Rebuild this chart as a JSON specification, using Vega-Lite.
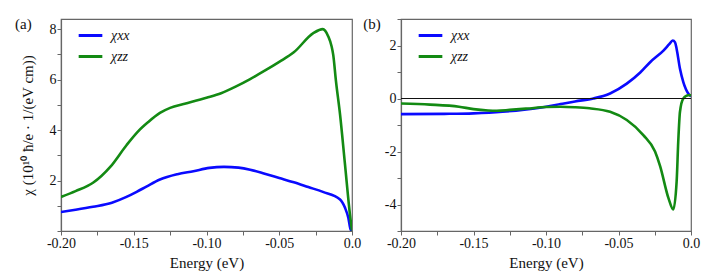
{
  "$schema": "https://vega.github.io/schema/vega-lite/v6.json",
  "background": "white",
  "padding": {"left": 14, "top": 15, "right": 5, "bottom": 2},
  "bounds": "flush",
  "spacing": 49,
  "config": {
    "font": "Times New Roman",
    "view": {"stroke": "#666", "strokeWidth": 1.2},
    "axis": {"labelFont": "Times New Roman", "titleFont": "Times New Roman", "labelFontSize": 14, "titleFontSize": 15, "titleFontWeight": "normal", "labelColor": "#111", "titleColor": "#111", "domainColor": "#666", "tickColor": "#666", "tickSize": 4, "labelPadding": 1, "grid": false, "domainWidth": 1.2},
    "legend": {"labelFont": "Times New Roman", "labelFontSize": 14, "labelFontStyle": "italic", "symbolType": "stroke", "symbolStrokeWidth": 3, "symbolSize": 560, "orient": "none", "legendX": 16, "legendY": 3, "padding": 0, "rowPadding": -2, "labelOffset": 7, "labelColor": "#111"}
  },
  "datasets": {
    "a": [
      {"s": "χxx", "x": -0.2, "y": 0.75}, {"s": "χxx", "x": -0.19, "y": 0.84}, {"s": "χxx", "x": -0.178, "y": 0.96}, {"s": "χxx", "x": -0.165, "y": 1.12}, {"s": "χxx", "x": -0.155, "y": 1.35}, {"s": "χxx", "x": -0.148, "y": 1.55}, {"s": "χxx", "x": -0.141, "y": 1.77}, {"s": "χxx", "x": -0.132, "y": 2.04}, {"s": "χxx", "x": -0.12, "y": 2.25}, {"s": "χxx", "x": -0.109, "y": 2.37}, {"s": "χxx", "x": -0.098, "y": 2.5}, {"s": "χxx", "x": -0.088, "y": 2.54}, {"s": "χxx", "x": -0.078, "y": 2.51}, {"s": "χxx", "x": -0.07, "y": 2.43}, {"s": "χxx", "x": -0.06, "y": 2.27}, {"s": "χxx", "x": -0.05, "y": 2.1}, {"s": "χxx", "x": -0.04, "y": 1.93}, {"s": "χxx", "x": -0.03, "y": 1.74}, {"s": "χxx", "x": -0.02, "y": 1.55}, {"s": "χxx", "x": -0.0082, "y": 1.25}, {"s": "χxx", "x": -0.0048, "y": 0.92}, {"s": "χxx", "x": -0.0025, "y": 0.52}, {"s": "χxx", "x": -0.0009, "y": 0.05}, {"s": "χxx", "x": 0, "y": 0.02},
      {"s": "χzz", "x": -0.2, "y": 1.35}, {"s": "χzz", "x": -0.19, "y": 1.58}, {"s": "χzz", "x": -0.178, "y": 1.91}, {"s": "χzz", "x": -0.166, "y": 2.55}, {"s": "χzz", "x": -0.155, "y": 3.4}, {"s": "χzz", "x": -0.147, "y": 3.95}, {"s": "χzz", "x": -0.14, "y": 4.32}, {"s": "χzz", "x": -0.132, "y": 4.68}, {"s": "χzz", "x": -0.125, "y": 4.88}, {"s": "χzz", "x": -0.115, "y": 5.04}, {"s": "χzz", "x": -0.1, "y": 5.28}, {"s": "χzz", "x": -0.09, "y": 5.46}, {"s": "χzz", "x": -0.08, "y": 5.72}, {"s": "χzz", "x": -0.07, "y": 6.02}, {"s": "χzz", "x": -0.06, "y": 6.35}, {"s": "χzz", "x": -0.05, "y": 6.7}, {"s": "χzz", "x": -0.04, "y": 7.08}, {"s": "χzz", "x": -0.0266, "y": 7.84}, {"s": "χzz", "x": -0.0201, "y": 8.0}, {"s": "χzz", "x": -0.0163, "y": 7.71}, {"s": "χzz", "x": -0.014, "y": 7.31}, {"s": "χzz", "x": -0.0129, "y": 6.98}, {"s": "χzz", "x": -0.011, "y": 5.93}, {"s": "χzz", "x": -0.0082, "y": 4.61}, {"s": "χzz", "x": -0.0048, "y": 2.63}, {"s": "χzz", "x": -0.0014, "y": 0.65}, {"s": "χzz", "x": 0, "y": 0.02}
    ],
    "b": [
      {"s": "χxx", "x": -0.2, "y": -0.59}, {"s": "χxx", "x": -0.17, "y": -0.58}, {"s": "χxx", "x": -0.15, "y": -0.56}, {"s": "χxx", "x": -0.13, "y": -0.5}, {"s": "χxx", "x": -0.115, "y": -0.42}, {"s": "χxx", "x": -0.1, "y": -0.31}, {"s": "χxx", "x": -0.09, "y": -0.21}, {"s": "χxx", "x": -0.08, "y": -0.11}, {"s": "χxx", "x": -0.0673, "y": 0.0}, {"s": "χxx", "x": -0.0558, "y": 0.19}, {"s": "χxx", "x": -0.0443, "y": 0.56}, {"s": "χxx", "x": -0.035, "y": 0.98}, {"s": "χxx", "x": -0.0282, "y": 1.37}, {"s": "χxx", "x": -0.019, "y": 1.81}, {"s": "χxx", "x": -0.015, "y": 2.05}, {"s": "χxx", "x": -0.0126, "y": 2.19}, {"s": "χxx", "x": -0.011, "y": 2.12}, {"s": "χxx", "x": -0.0099, "y": 1.87}, {"s": "χxx", "x": -0.0076, "y": 1.12}, {"s": "χxx", "x": -0.0053, "y": 0.62}, {"s": "χxx", "x": -0.0035, "y": 0.35}, {"s": "χxx", "x": -0.0019, "y": 0.19}, {"s": "χxx", "x": 0, "y": 0.08},
      {"s": "χzz", "x": -0.2, "y": -0.19}, {"s": "χzz", "x": -0.18, "y": -0.23}, {"s": "χzz", "x": -0.16, "y": -0.31}, {"s": "χzz", "x": -0.15, "y": -0.4}, {"s": "χzz", "x": -0.14, "y": -0.45}, {"s": "χzz", "x": -0.134, "y": -0.46}, {"s": "χzz", "x": -0.125, "y": -0.43}, {"s": "χzz", "x": -0.113, "y": -0.38}, {"s": "χzz", "x": -0.1, "y": -0.32}, {"s": "χzz", "x": -0.09, "y": -0.31}, {"s": "χzz", "x": -0.08, "y": -0.33}, {"s": "χzz", "x": -0.07, "y": -0.37}, {"s": "χzz", "x": -0.0558, "y": -0.5}, {"s": "χzz", "x": -0.0443, "y": -0.81}, {"s": "χzz", "x": -0.0329, "y": -1.38}, {"s": "χzz", "x": -0.0248, "y": -2.0}, {"s": "χzz", "x": -0.0213, "y": -2.55}, {"s": "χzz", "x": -0.0156, "y": -3.75}, {"s": "χzz", "x": -0.0122, "y": -4.19}, {"s": "χzz", "x": -0.0099, "y": -3.13}, {"s": "χzz", "x": -0.0088, "y": -1.63}, {"s": "χzz", "x": -0.0076, "y": -0.5}, {"s": "χzz", "x": -0.0053, "y": 0.0}, {"s": "χzz", "x": -0.0019, "y": 0.12}, {"s": "χzz", "x": 0, "y": 0.12}
    ],
    "zero": [{"y": 0}]
  },
  "resolve": {"legend": {"color": "independent"}},
  "hconcat": [
    {
      "width": 291, "height": 212,
      "title": {"text": "(a)", "anchor": "start", "frame": "bounds", "fontSize": 15, "fontWeight": "normal", "font": "Times New Roman", "dy": 17, "dx": -5, "color": "#111"},
      "data": {"name": "a"},
      "mark": {"type": "line", "strokeWidth": 2.6, "interpolate": "monotone", "clip": true},
      "encoding": {
        "x": {"field": "x", "type": "quantitative", "scale": {"domain": [-0.2, 0], "nice": false}, "title": "Energy (eV)", "axis": {"values": [-0.2, -0.175, -0.15, -0.125, -0.1, -0.075, -0.05, -0.025, 0], "labelExpr": "abs(datum.value * 20 - round(datum.value * 20)) < 0.001 ? (datum.value == 0 ? '0.0' : replace(format(datum.value, '.2f'), '−', '-')) : ''", "labelFlush": false, "titlePadding": 5}},
        "y": {"field": "y", "type": "quantitative", "scale": {"domain": [0, 8.4], "nice": false}, "title": "χ (10¹⁰ ħ/e · 1/(eV cm))", "axis": {"values": [0, 1, 2, 3, 4, 5, 6, 7, 8], "labelExpr": "datum.value % 2 == 0 && datum.value > 0 ? datum.label : ''", "titlePadding": 14}},
        "color": {"field": "s", "type": "nominal", "scale": {"domain": ["χxx", "χzz"], "range": ["#0a0aff", "#138a13"]}, "legend": {"title": null}}
      }
    },
    {
      "width": 290, "height": 212,
      "title": {"text": "(b)", "anchor": "start", "frame": "bounds", "fontSize": 15, "fontWeight": "normal", "font": "Times New Roman", "dy": 17, "dx": -21, "color": "#111"},
      "layer": [
        {
          "data": {"name": "b"},
          "mark": {"type": "line", "strokeWidth": 2.6, "interpolate": "monotone", "clip": true},
          "encoding": {
            "x": {"field": "x", "type": "quantitative", "scale": {"domain": [-0.2, 0], "nice": false}, "title": "Energy (eV)", "axis": {"values": [-0.2, -0.175, -0.15, -0.125, -0.1, -0.075, -0.05, -0.025, 0], "labelExpr": "abs(datum.value * 20 - round(datum.value * 20)) < 0.001 ? (datum.value == 0 ? '0.0' : replace(format(datum.value, '.2f'), '−', '-')) : ''", "labelFlush": false, "titlePadding": 5}},
            "y": {"field": "y", "type": "quantitative", "scale": {"domain": [-5, 3], "nice": false}, "title": null, "axis": {"values": [-5, -4, -3, -2, -1, 0, 1, 2, 3], "labelExpr": "datum.value == -4 || datum.value == -2 || datum.value == 0 || datum.value == 2 ? replace(datum.label, '−', '-') : ''"}},
            "color": {"field": "s", "type": "nominal", "scale": {"domain": ["χxx", "χzz"], "range": ["#0a0aff", "#138a13"]}, "legend": {"title": null}}
          }
        },
        {
          "data": {"name": "zero"},
          "mark": {"type": "rule", "color": "#111", "strokeWidth": 1.2},
          "encoding": {"y": {"field": "y", "type": "quantitative", "scale": {"domain": [-5, 3], "nice": false}, "title": null, "axis": {"values": [-5, -4, -3, -2, -1, 0, 1, 2, 3], "labelExpr": "datum.value == -4 || datum.value == -2 || datum.value == 0 || datum.value == 2 ? replace(datum.label, '−', '-') : ''"}}}
        }
      ]
    }
  ]
}
